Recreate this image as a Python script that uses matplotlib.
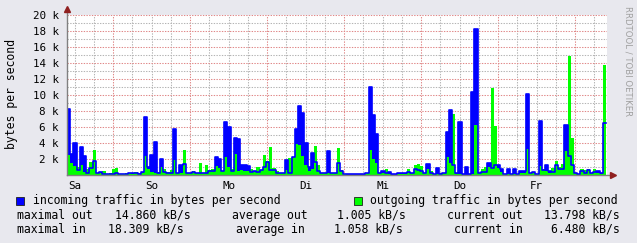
import numpy as np
import matplotlib.pyplot as plt

# hourly averages in kB/s
incoming = [8.2, 2.6, 4.0, 0.6, 3.5, 2.4, 0.3, 0.9, 1.8, 0.2, 0.4, 0.15,
            0.15, 0.15, 0.15, 0.2, 0.15, 0.15, 0.15, 0.2, 0.3, 0.3, 0.15, 0.4,
            7.3, 1.0, 2.5, 4.1, 0.3, 2.0, 0.4, 0.2, 0.3, 5.7, 0.2, 1.3,
            1.4, 0.2, 0.2, 0.4, 0.3, 0.2, 0.2, 0.3, 0.5, 0.5, 2.2, 2.0,
            0.5, 6.6, 6.0, 0.5, 4.6, 4.5, 1.2, 1.2, 1.1, 0.4, 0.5, 0.4,
            0.6, 1.0, 1.6, 0.6, 0.6, 0.3, 0.2, 0.2, 1.9, 0.3, 2.2, 5.8,
            8.6, 7.7, 4.0, 1.0, 2.7, 1.6, 0.5, 0.3, 0.3, 3.0, 0.2, 0.3,
            1.5, 0.5, 0.15, 0.15, 0.15, 0.15, 0.15, 0.15, 0.15, 0.3, 11.0, 7.5,
            5.1, 0.2, 0.5, 0.2, 0.4, 0.15, 0.15, 0.3, 0.3, 0.2, 0.4, 0.3,
            0.8, 0.6, 0.5, 0.2, 1.4, 0.3, 0.15, 0.9, 0.15, 0.2, 5.4, 8.1,
            1.3, 0.2, 6.6, 0.15, 1.0, 0.15, 10.4, 18.3, 0.2, 0.4, 0.4, 1.5,
            0.9, 1.2, 1.3, 0.8, 0.15, 0.7, 0.15, 0.7, 0.15, 0.5, 0.5, 10.1,
            0.2, 0.4, 0.15, 6.7, 0.6, 1.3, 0.5, 0.4, 1.3, 0.7, 0.7, 6.3,
            2.4, 1.2, 0.2, 0.15, 0.5, 0.3, 0.6, 0.3, 0.4, 0.5, 0.2, 6.48]
outgoing = [2.5, 1.5, 1.1, 1.0, 1.3, 0.4, 0.8, 1.6, 3.1, 0.3, 0.2, 0.5,
            0.1, 0.2, 0.7, 0.9, 0.1, 0.1, 0.3, 0.3, 0.1, 0.4, 0.2, 0.2,
            2.4, 0.8, 0.4, 0.3, 0.4, 1.0, 0.8, 0.4, 0.6, 1.9, 0.3, 0.3,
            3.1, 0.3, 0.2, 0.5, 0.2, 1.5, 0.3, 1.2, 0.6, 0.8, 1.1, 0.9,
            0.5, 2.2, 1.0, 0.7, 2.6, 0.5, 0.6, 0.5, 0.5, 0.8, 0.4, 1.0,
            0.6, 2.5, 1.8, 3.5, 0.9, 0.5, 0.2, 0.2, 0.6, 2.1, 2.2, 3.9,
            3.7, 2.4, 1.2, 0.5, 0.8, 3.6, 1.2, 0.3, 0.3, 0.2, 0.2, 0.3,
            3.4, 0.6, 0.1, 0.05, 0.05, 0.05, 0.05, 0.05, 0.05, 0.3, 3.1, 2.0,
            1.5, 0.2, 0.3, 0.8, 0.1, 0.05, 0.05, 0.1, 0.1, 0.1, 0.8, 0.2,
            1.3, 1.4, 1.1, 0.2, 0.7, 0.5, 0.1, 0.1, 0.2, 0.2, 2.3, 1.5,
            7.6, 0.1, 0.1, 0.05, 0.05, 0.05, 0.1, 6.2, 0.3, 0.8, 1.0, 1.0,
            10.9, 6.1, 0.9, 0.4, 0.1, 0.1, 0.1, 0.1, 0.1, 0.3, 0.2, 3.3,
            0.3, 0.2, 0.1, 1.1, 0.7, 0.5, 0.2, 0.9, 1.8, 1.0, 1.4, 3.0,
            14.86, 4.6, 0.3, 0.1, 0.8, 0.6, 0.8, 0.3, 0.7, 0.3, 0.1, 13.8]
days = ["Sa", "So", "Mo", "Di", "Mi", "Do", "Fr"]
y_ticks = list(range(2, 21, 2))

t_start = -14.34          # hours relative to the first midnight
t_end = t_start + 168.3
W, H = 637, 243
mono = "DejaVu Sans Mono"

fig = plt.figure(figsize=(W / 100, H / 100), dpi=100, facecolor="#e8e8ee")
ax = fig.add_axes([67 / W, (H - 175) / H, 540 / W, 160 / H])
ax.set_facecolor("white")

t = t_start + np.arange(len(incoming) + 1)
inc = np.append(incoming, incoming[-1])
out = np.append(outgoing, outgoing[-1])

ax.fill_between(t, inc, step="post", color="#0000ff", lw=0, zorder=2)
ax.fill_between(t, out, step="post", color="#00ff00", lw=0, zorder=3)
ax.step(t, inc, where="post", color="#0000ff", lw=1.2, zorder=4)

ax.set_xlim(t_start, t_end)
ax.set_ylim(0, 20)
ax.set_xticks(np.arange(0, 150, 24))
ax.set_xticks(np.arange(-12, 154, 6), minor=True)
ax.set_xticklabels([])
ax.set_yticks(y_ticks)
ax.set_yticklabels([f"{v} k" for v in y_ticks], family=mono, fontsize=7.8)
ax.set_yticks(range(1, 20), minor=True)
ax.tick_params(which="both", length=0)
ax.tick_params(axis="y", pad=6)
ax.grid(which="minor", color="#b4b4b4", lw=0.75, ls=(0, (1.3, 1.3)), zorder=1)
ax.grid(which="major", color="#e08888", lw=0.75, ls=(0, (1.3, 1.3)), zorder=1)
ax.set_axisbelow(True)
for s in ax.spines.values():
    s.set_visible(False)

# axis lines with arrows like rrdtool
ax.plot([0, 0], [0, 1.03], transform=ax.transAxes, color="#808080", lw=1, clip_on=False, zorder=5)
ax.plot([0, 1.01], [0, 0], transform=ax.transAxes, color="#808080", lw=1, clip_on=False, zorder=5)
ax.plot([0], [1.035], transform=ax.transAxes, marker="^", ms=4.5, color="#902020", clip_on=False, zorder=6)
ax.plot([1.012], [0], transform=ax.transAxes, marker=">", ms=4.5, color="#902020", clip_on=False, zorder=6)

for k, d in enumerate(days):
    ax.text(-12 + 24 * k, -0.07, d, transform=ax.get_xaxis_transform(),
            ha="center", va="center", family=mono, fontsize=7.8)

fig.text(12 / W, 1 - 94 / H, "bytes per second", rotation=90, ha="center", va="center",
         family=mono, fontsize=8.3)
fig.text(628 / W, 1 - 61 / H, "RRDTOOL / TOBI OETIKER", rotation=270, ha="center",
         va="center", fontsize=6.1, color="#a0a0a0")


def ftext(x, y, s, ha="left"):
    fig.text(x / W, 1 - y / H, s, ha=ha, va="center", family=mono, fontsize=8.3)


def square(x, y, c):
    fig.patches.append(plt.Rectangle((x / W, 1 - (y + 4) / H), 8 / W, 8 / H, facecolor=c,
                                     edgecolor="#202020", lw=0.6, transform=fig.transFigure))


square(16, 200.5, "#0000ff")
ftext(33, 200.5, "incoming traffic in bytes per second")
square(354, 200.5, "#00ff00")
ftext(370, 200.5, "outgoing traffic in bytes per second")

ftext(17, 215, "maximal out")
ftext(191, 215, "14.860 kB/s", ha="right")
ftext(232, 215, "average out")
ftext(406, 215, "1.005 kB/s", ha="right")
ftext(447, 215, "current out")
ftext(620, 215, "13.798 kB/s", ha="right")

ftext(17, 229, "maximal in")
ftext(183.5, 229, "18.309 kB/s", ha="right")
ftext(236, 229, "average in")
ftext(402.5, 229, "1.058 kB/s", ha="right")
ftext(454, 229, "current in")
ftext(620, 229, "6.480 kB/s", ha="right")

fig.savefig("out.png", dpi=100, facecolor=fig.get_facecolor())
